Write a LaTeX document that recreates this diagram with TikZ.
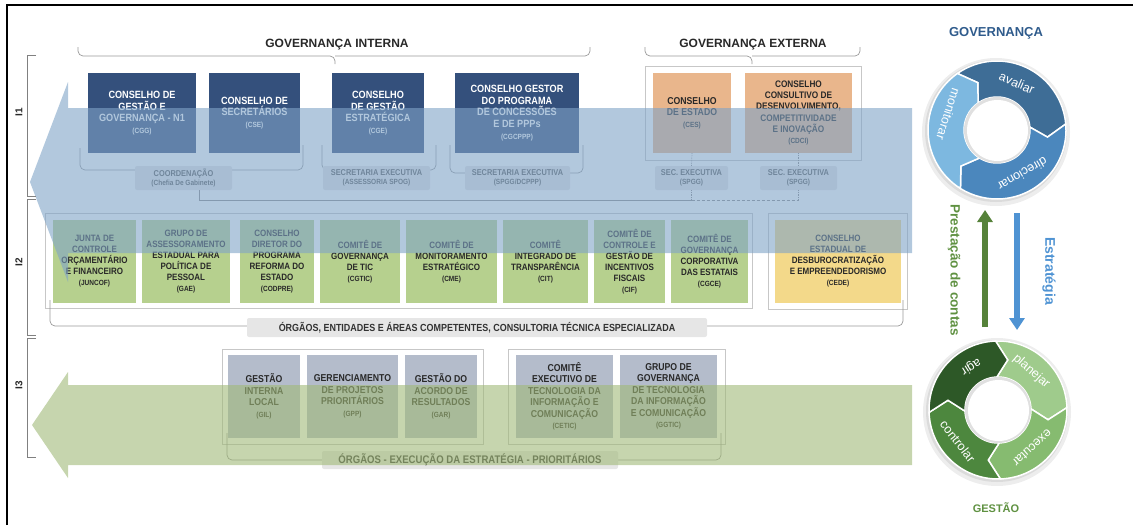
\documentclass[tikz,border=0pt]{standalone}
\usepackage{fontspec}
\setmainfont{Liberation Sans}
\newfontfamily\condfont{Liberation Sans}[FakeStretch=0.87]
\usetikzlibrary{arrows.meta}

\definecolor{navybox}{RGB}{52,80,124}
\definecolor{orangebox}{RGB}{233,182,140}
\definecolor{greenbox}{RGB}{182,208,142}
\definecolor{yellowbox}{RGB}{243,217,138}
\definecolor{lavbox}{RGB}{180,188,203}
\definecolor{bluearrow}{RGB}{127,163,199}
\definecolor{greenarrow}{RGB}{160,185,120}
\definecolor{labelgrey}{RGB}{230,230,230}
\definecolor{darktext}{RGB}{40,40,40}
\definecolor{govblue}{RGB}{47,91,140}
\definecolor{avaliarc}{RGB}{62,109,150}
\definecolor{direcionarc}{RGB}{75,135,189}
\definecolor{monitorarc}{RGB}{125,184,224}
\definecolor{agirc}{RGB}{45,88,39}
\definecolor{planejarc}{RGB}{159,203,140}
\definecolor{executarc}{RGB}{134,187,112}
\definecolor{controlarc}{RGB}{77,135,62}
\definecolor{gestgreen}{RGB}{95,145,65}
\definecolor{estratblue}{RGB}{79,147,211}

\newcommand\sigla[1]{{\fontsize{7.5}{9}\selectfont #1}}
\newcommand\ringpiece[4]{%
  \filldraw [#4, draw=white, line width=1.5pt, shift={(#1)}]
    (#2:69) arc [start angle=#2, end angle=#3, radius=69]
    -- (#3-13:51) -- (#3:33)
    arc [start angle=#3, end angle=#2, radius=33]
    -- (#2-13:51) -- cycle;}

\begin{document}
\begin{tikzpicture}[x=1pt, y=1pt,
  box/.style={rectangle, inner sep=0pt, align=center, font=\condfont\bfseries\fontsize{10.5}{11.7}\selectfont},
  govbox/.style={box, fill=navybox, text=white},
  extbox/.style={box, fill=orangebox, text=darktext, font=\condfont\bfseries\fontsize{10}{11.5}\selectfont},
  compbox/.style={box, fill=greenbox, text=darktext, font=\condfont\bfseries\fontsize{9.2}{11}\selectfont},
  execbox/.style={box, fill=lavbox, text=darktext, font=\condfont\bfseries\fontsize{10}{11.5}\selectfont},
  secbox/.style={rectangle, rounded corners=2pt, fill=labelgrey, text=black!65, inner sep=0pt, align=center, font=\condfont\bfseries\fontsize{8.5}{9.5}\selectfont},
  barlabel/.style={rectangle, rounded corners=2pt, fill=labelgrey, text=black!80, inner sep=0pt, font=\condfont\bfseries\fontsize{10.3}{12}\selectfont},
  heading/.style={font=\bfseries\fontsize{12}{14}\selectfont, text=darktext},
  framebox/.style={draw=black!22, line width=0.7pt},
  bracket/.style={draw=black!40, line width=0.7pt, rounded corners=5pt},
  link/.style={draw=black!45, line width=0.7pt},
  sidebar/.style={draw=black!50, line width=0.8pt},
  sidelabel/.style={rotate=90, font=\bfseries\fontsize{10}{12}\selectfont, text=darktext},
  ringlabel/.style={text=white, inner sep=0pt, font=\fontsize{12.5}{14}\selectfont},
  bigarrow/.style={line width=6pt, -{Triangle[width=15pt, length=12pt]}}]
\useasboundingbox (0,0) rectangle (1133,-525);
\draw [line width=2.5pt] (7,-525) -- (7,-5) -- (1133,-5);

\node [heading] (intlabel) at (337,-45) {GOVERNANÇA INTERNA};
\node [heading] (extlabel) at (753,-45) {GOVERNANÇA EXTERNA};
\draw [bracket] (78,-47) |- (335,-56) -- (335,-64);
\draw [bracket] (335,-56) -| (590,-47);
\draw [bracket] (645,-47) |- (752,-56) -- (752,-64);
\draw [bracket] (752,-56) -| (860,-47);
\draw [framebox] (645,-66) rectangle (861,-160);

\node [govbox, minimum width=108, minimum height=80] (cgg) at (142,-113) {CONSELHO DE\\GESTÃO E\\GOVERNANÇA - N1\\\sigla{(CGG)}};
\node [govbox, minimum width=91, minimum height=80] (cse) at (254.5,-113) {CONSELHO DE\\SECRETÁRIOS\\\sigla{(CSE)}};
\node [govbox, minimum width=92, minimum height=80] (cge) at (378,-113) {CONSELHO\\DE GESTÃO\\ESTRATÉGICA\\\sigla{(CGE)}};
\node [govbox, minimum width=124, minimum height=80] (cgcppp) at (517,-113) {CONSELHO GESTOR\\DO PROGRAMA\\DE CONCESSÕES\\E DE PPPs\\\sigla{(CGCPPP)}};
\node [extbox, minimum width=78, minimum height=80] (ces) at (692,-113) {CONSELHO\\DE ESTADO\\\sigla{(CES)}};
\node [extbox, minimum width=107, minimum height=80, font=\condfont\bfseries\fontsize{9.5}{11.2}\selectfont] (cdci) at (798.5,-113) {CONSELHO\\CONSULTIVO DE\\DESENVOLVIMENTO,\\COMPETITIVIDADE\\E INOVAÇÃO\\\sigla{(CDCI)}};

\draw [bracket] (80,-148) |- (303,-170) -- (303,-145);
\draw [bracket] (322,-145) |- (436,-170) -- (436,-145);
\draw [bracket] (450,-145) |- (583,-173) -- (583,-145);
\node [secbox, minimum width=97, minimum height=24] (coord) at (183.5,-178) {COORDENAÇÃO\\\sigla{(Chefia De Gabinete)}};
\node [secbox, minimum width=107, minimum height=24] (seca) at (376.5,-178) {SECRETARIA EXECUTIVA\\\sigla{(ASSESSORIA SPOG)}};
\node [secbox, minimum width=105, minimum height=24] (secb) at (517.5,-178) {SECRETARIA EXECUTIVA\\\sigla{(SPGG/DCPPP)}};
\node [secbox, minimum width=73, minimum height=24] (secc) at (691.5,-178) {SEC. EXECUTIVA\\\sigla{(SPGG)}};
\node [secbox, minimum width=77, minimum height=24] (secd) at (798.5,-178) {SEC. EXECUTIVA\\\sigla{(SPGG)}};
\coordinate (busc) at (691.5,-200);
\coordinate (busd) at (798.5,-200);
\draw [link] ([xshift=16]coord.south) |- (busc);
\draw [link, densely dashed] (busc) -- (busd);
\draw [link, densely dotted] (secc.south) -- (busc);
\draw [link, densely dotted] (secd.south) -- (busd);
\draw [link, densely dotted] (ces.south) -- (secc.north);
\draw [link, densely dotted] (cdci.south) -- (secd.north);

\draw [framebox] (45,-213) rectangle (752,-308);
\draw [framebox] (768,-213) rectangle (907,-309);
\node [compbox, minimum width=83, minimum height=83] (juncof) at (94.5,-261.5) {JUNTA DE\\CONTROLE\\ORÇAMENTÁRIO\\E FINANCEIRO\\\sigla{(JUNCOF)}};
\node [compbox, minimum width=88, minimum height=83] (gae) at (186,-261.5) {GRUPO DE\\ASSESSORAMENTO\\ESTADUAL PARA\\POLÍTICA DE\\PESSOAL\\\sigla{(GAE)}};
\node [compbox, minimum width=74, minimum height=83] (codpre) at (277,-261.5) {CONSELHO\\DIRETOR DO\\PROGRAMA\\REFORMA DO\\ESTADO\\\sigla{(CODPRE)}};
\node [compbox, minimum width=80, minimum height=83] (cgtic) at (360,-261.5) {COMITÊ DE\\GOVERNANÇA\\DE TIC\\\sigla{(CGTIC)}};
\node [compbox, minimum width=91, minimum height=83] (cme) at (451.5,-261.5) {COMITÊ DE\\MONITORAMENTO\\ESTRATÉGICO\\\sigla{(CME)}};
\node [compbox, minimum width=85, minimum height=83] (cit) at (545.5,-261.5) {COMITÊ\\INTEGRADO DE\\TRANSPARÊNCIA\\\sigla{(CIT)}};
\node [compbox, minimum width=71, minimum height=83] (cif) at (629.5,-261.5) {COMITÊ DE\\CONTROLE E\\GESTÃO DE\\INCENTIVOS\\FISCAIS\\\sigla{(CIF)}};
\node [compbox, minimum width=77, minimum height=83] (cgce) at (709.5,-261.5) {COMITÊ DE\\GOVERNANÇA\\CORPORATIVA\\DAS ESTATAIS\\\sigla{(CGCE)}};
\node [compbox, fill=yellowbox, minimum width=126, minimum height=83] (cede) at (838,-261.5) {CONSELHO\\ESTADUAL DE\\DESBUROCRATIZAÇÃO\\E EMPREENDEDORISMO\\\sigla{(CEDE)}};
\draw [bracket] (50,-300) |- (903,-326) -- (903,-300);
\node [barlabel, minimum width=460, minimum height=19] (orgaos) at (477,-327.5) {ÓRGÃOS, ENTIDADES E ÁREAS COMPETENTES, CONSULTORIA TÉCNICA ESPECIALIZADA};

\fill [bluearrow, fill opacity=0.6] (30,-182) -- (68,-82) -- (68,-108) -- (912,-108) -- (912,-253) -- (68,-253) -- (68,-282) -- cycle;

\draw [framebox] (222,-349) rectangle (483,-444);
\draw [framebox] (508,-349) rectangle (725,-444);
\node [execbox, minimum width=72, minimum height=83] (gil) at (264,-396.5) {GESTÃO\\INTERNA\\LOCAL\\\sigla{(GIL)}};
\node [execbox, minimum width=91, minimum height=83] (gpp) at (352.5,-396.5) {GERENCIAMENTO\\DE PROJETOS\\PRIORITÁRIOS\\\sigla{(GPP)}};
\node [execbox, minimum width=72, minimum height=83] (gar) at (441,-396.5) {GESTÃO DO\\ACORDO DE\\RESULTADOS\\\sigla{(GAR)}};
\node [execbox, minimum width=97, minimum height=83] (cetic) at (564.5,-396.5) {COMITÊ\\EXECUTIVO DE\\TECNOLOGIA DA\\INFORMAÇÃO E\\COMUNICAÇÃO\\\sigla{(CETIC)}};
\node [execbox, minimum width=97, minimum height=83] (ggtic) at (668.5,-396.5) {GRUPO DE\\GOVERNANÇA\\DE TECNOLOGIA\\DA INFORMAÇÃO\\E COMUNICAÇÃO\\\sigla{(GGTIC)}};
\draw [bracket] (227,-433) |- (721,-460) -- (721,-433);
\node [barlabel, minimum width=296, minimum height=18, font=\condfont\bfseries\fontsize{11}{13}\selectfont] (execucao) at (470,-460) {ÓRGÃOS - EXECUÇÃO DA ESTRATÉGIA - PRIORITÁRIOS};

\fill [greenarrow, fill opacity=0.6] (32,-425) -- (68,-372) -- (68,-385) -- (912,-385) -- (912,-465) -- (68,-465) -- (68,-478) -- cycle;

\draw [sidebar] (36,-55) -- (27,-55) -- (27,-196) -- (36,-196);
\draw [sidebar] (36,-199) -- (27,-199) -- (27,-335) -- (36,-335);
\draw [sidebar] (36,-338) -- (27,-338) -- (27,-457) -- (36,-457);
\node [sidelabel] (ione) at (19,-112) {I1};
\node [sidelabel] (itwo) at (19,-262) {I2};
\node [sidelabel] (ithree) at (19,-385) {I3};

\coordinate (gov) at (997,-130);
\coordinate (gest) at (998,-410);
\node [font=\bfseries\fontsize{13}{15}\selectfont, text=govblue] (govtitle) at (996,-33) {GOVERNANÇA};
\node [font=\bfseries\fontsize{11}{13}\selectfont, text=gestgreen] (gesttitle) at (996,-508) {GESTÃO};

\fill [black!7] ([shift={(-1,-2)}]gov) circle [radius=74];
\fill [black!14] ([shift={(-1,-1)}]gov) circle [radius=71];
\ringpiece{gov}{125}{5}{avaliarc}
\ringpiece{gov}{5}{-122}{direcionarc}
\ringpiece{gov}{238}{125}{monitorarc}
\fill [black!12] (gov) circle [radius=33];
\fill [white] ([shift={(0.5,-0.5)}]gov) circle [radius=30.5];
\node [ringlabel, rotate=-23] (avaliar) at ([shift={(67:51)}]gov) {avaliar};
\node [ringlabel, rotate=-150] (direcionar) at ([shift={(-60:51)}]gov) {direcionar};
\node [ringlabel, rotate=-108] (monitorar) at ([shift={(162:51)}]gov) {monitorar};

\fill [black!7] ([shift={(-1,-2)}]gest) circle [radius=74];
\fill [black!14] ([shift={(-1,-1)}]gest) circle [radius=71];
\ringpiece{gest}{92}{2}{planejarc}
\ringpiece{gest}{2}{-88}{executarc}
\ringpiece{gest}{-88}{-178}{controlarc}
\ringpiece{gest}{182}{92}{agirc}
\fill [black!12] (gest) circle [radius=33];
\fill [white] ([shift={(0.5,-0.5)}]gest) circle [radius=30.5];
\node [ringlabel, rotate=-41] (planejar) at ([shift={(49:51)}]gest) {planejar};
\node [ringlabel, rotate=-138] (executar) at ([shift={(-48:51)}]gest) {executar};
\node [ringlabel, rotate=-52] (controlar) at ([shift={(-142:51)}]gest) {controlar};
\node [ringlabel, rotate=-148] (agir) at ([shift={(122:51)}]gest) {agir};

\coordinate (upfoot) at (985,-327);
\coordinate (uphead) at (985,-210);
\coordinate (downtop) at (1017,-213);
\coordinate (downhead) at (1017,-330);
\draw [bigarrow, draw=gestgreen!90!black] (upfoot) -- (uphead);
\draw [bigarrow, draw=estratblue] (downtop) -- (downhead);
\node [rotate=-90, font=\bfseries\fontsize{13.5}{15}\selectfont, text=gestgreen] (prestacao) at (954,-270) {Prestação de contas};
\node [rotate=-90, font=\bfseries\fontsize{14}{16}\selectfont, text=estratblue] (estrategia) at (1049,-271) {Estratégia};
\end{tikzpicture}
\end{document}
